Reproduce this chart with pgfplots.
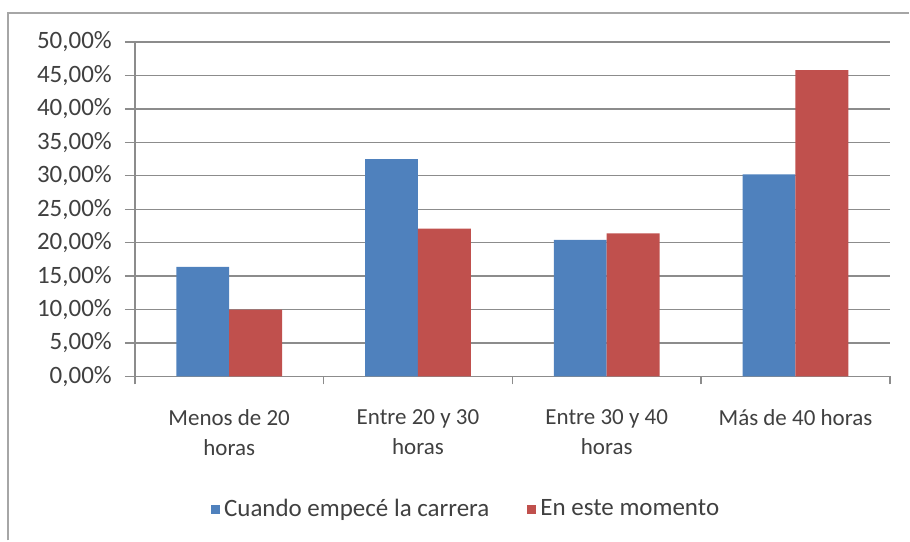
\documentclass[border=0pt]{standalone}
\usepackage{fontspec}
\setmainfont{Carlito}
\usepackage{pgfplots}
\pgfplotsset{compat=1.18}
\definecolor{xlblue}{HTML}{4F81BD}
\definecolor{xlred}{HTML}{C0504D}
\definecolor{txt}{HTML}{404040}
\definecolor{gridc}{HTML}{8C8C8C}
\definecolor{framec}{HTML}{A6A6A6}
\begin{document}
\begin{tikzpicture}
\begin{axis}[
  scale only axis, width=378pt, height=167.5pt,
  xmin=-0.5, xmax=3.5, ymin=0, ymax=50,
  ybar=0pt, bar width=26.5pt,
  ytick={0,5,...,50},
  yticklabel={\pgfmathprintnumber[fixed,fixed zerofill,precision=2,use comma,assume math mode=true]{\tick}\%},
  yticklabel style={font=\fontsize{12.5}{14}\selectfont, text=txt, xshift=-3pt},
  ymajorgrids, grid style={draw=gridc, line width=0.7pt},
  axis x line*=bottom, axis y line*=left,
  axis line style={draw=gridc, line width=0.7pt},
  xtick={0,1,2,3},
  xticklabels={{Menos de 20\\horas},{Entre 20 y 30\\horas},{Entre 30 y 40\\horas},{Más de 40 horas}},
  xticklabel style={align=center, font=\fontsize{11.5}{15}\selectfont, text=txt, yshift=-8pt},
  major x tick style={draw=none},
  minor xtick={-0.5,0.5,1.5,2.5,3.5},
  minor x tick style={draw=gridc, line width=0.7pt},
  minor tick length=4pt,
  major tick length=5pt,
  ytick style={draw=gridc, line width=0.7pt},
  tick align=outside,
  legend columns=2,
  legend style={at={(0.44,-0.397)}, anchor=center, draw=none, fill=none,
    font=\fontsize{12.5}{14}\selectfont, text=txt,
    /tikz/every even column/.append style={column sep=17pt}},
  legend image code/.code={\fill[#1] (-1.5pt,-2.3pt) rectangle (3.1pt,2.3pt);},
]
\addplot[fill=xlblue, draw=none] coordinates {(0,16.4) (1,32.5) (2,20.4) (3,30.2)};
\addplot[fill=xlred, draw=none] coordinates {(0,10.0) (1,22.1) (2,21.4) (3,45.8)};
\legend{Cuando empecé la carrera, En este momento}
\coordinate (SW) at (rel axis cs:0,0);
\coordinate (NE) at (rel axis cs:1,1);
\end{axis}
\draw[framec, line width=1.2pt] ([xshift=-63.5pt,yshift=-82pt]SW) -- ([xshift=-63.5pt,yshift=14.5pt]SW |- NE) -- ([yshift=14.5pt,xshift=9.5pt]NE);
\path[use as bounding box] ([xshift=-67.5pt,yshift=-82pt]SW) rectangle ([xshift=9.5pt,yshift=21pt]NE);
\end{tikzpicture}
\end{document}
